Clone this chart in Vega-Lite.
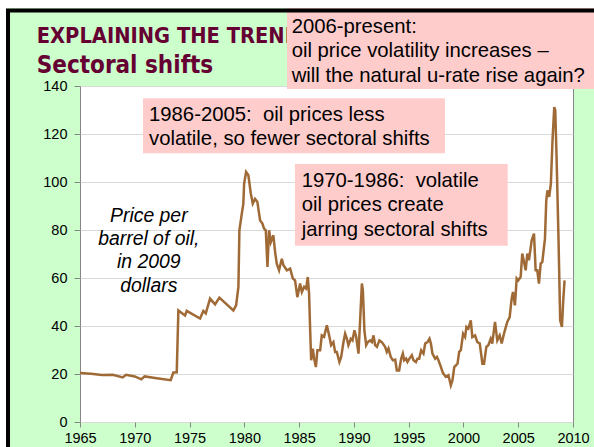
{
  "$schema": "https://vega.github.io/schema/vega-lite/v6.json",
  "width": 493,
  "height": 336,
  "autosize": {"type": "none"},
  "padding": {"left": 80, "top": 86, "right": 21, "bottom": 25},
  "background": "#ccffcc",
  "config": {
    "view": {"fill": "white", "stroke": "#868686", "strokeWidth": 1},
    "axis": {"labelFont": "Liberation Sans", "labelFontSize": 14.5, "labelColor": "black", "tickColor": "#868686", "domain": false, "gridColor": "#d9d9d9", "title": null}
  },
  "layer": [
    {
      "data": {"values": [
        {"t": 1965.00, "p": 20.4}, {"t": 1966.00, "p": 20.1}, {"t": 1967.00, "p": 19.6}, {"t": 1968.00, "p": 19.7},
        {"t": 1968.90, "p": 18.6}, {"t": 1969.20, "p": 19.7}, {"t": 1970.00, "p": 19.0}, {"t": 1970.60, "p": 17.8},
        {"t": 1970.90, "p": 19.0}, {"t": 1972.00, "p": 18.2}, {"t": 1973.28, "p": 17.4}, {"t": 1973.52, "p": 20.6},
        {"t": 1973.83, "p": 20.7}, {"t": 1973.98, "p": 46.5}, {"t": 1974.59, "p": 44.4}, {"t": 1974.74, "p": 46.3},
        {"t": 1975.96, "p": 43.1}, {"t": 1976.26, "p": 46.3}, {"t": 1976.48, "p": 45.3}, {"t": 1976.87, "p": 51.4},
        {"t": 1977.33, "p": 49.0}, {"t": 1977.72, "p": 51.8}, {"t": 1979.00, "p": 46.5}, {"t": 1979.25, "p": 48.6},
        {"t": 1979.46, "p": 56.3}, {"t": 1979.55, "p": 79.9}, {"t": 1979.77, "p": 86.8}, {"t": 1979.91, "p": 91.0},
        {"t": 1979.98, "p": 99.3}, {"t": 1980.16, "p": 104.2}, {"t": 1980.37, "p": 102.8}, {"t": 1980.59, "p": 95.2},
        {"t": 1980.77, "p": 91.0}, {"t": 1980.98, "p": 93.0}, {"t": 1981.19, "p": 91.7}, {"t": 1981.44, "p": 84.0},
        {"t": 1981.65, "p": 82.7}, {"t": 1981.80, "p": 80.6}, {"t": 1981.96, "p": 79.9}, {"t": 1982.11, "p": 64.6},
        {"t": 1982.26, "p": 79.9}, {"t": 1982.42, "p": 75.0}, {"t": 1982.65, "p": 77.8}, {"t": 1982.81, "p": 70.8},
        {"t": 1982.96, "p": 66.0}, {"t": 1983.17, "p": 63.2}, {"t": 1983.42, "p": 68.0}, {"t": 1983.57, "p": 65.3},
        {"t": 1983.88, "p": 63.2}, {"t": 1984.18, "p": 63.9}, {"t": 1984.43, "p": 59.8}, {"t": 1984.63, "p": 59.0},
        {"t": 1984.84, "p": 52.0}, {"t": 1985.09, "p": 57.7}, {"t": 1985.25, "p": 54.2}, {"t": 1985.46, "p": 56.3},
        {"t": 1985.64, "p": 55.6}, {"t": 1985.79, "p": 60.4}, {"t": 1985.91, "p": 53.5}, {"t": 1986.00, "p": 39.6},
        {"t": 1986.10, "p": 25.7}, {"t": 1986.25, "p": 30.6}, {"t": 1986.37, "p": 26.4}, {"t": 1986.53, "p": 22.9},
        {"t": 1986.67, "p": 29.9}, {"t": 1986.92, "p": 29.9}, {"t": 1987.07, "p": 36.1}, {"t": 1987.28, "p": 35.5},
        {"t": 1987.53, "p": 40.3}, {"t": 1987.74, "p": 36.1}, {"t": 1987.92, "p": 32.0}, {"t": 1988.13, "p": 33.3},
        {"t": 1988.29, "p": 29.2}, {"t": 1988.44, "p": 29.2}, {"t": 1988.68, "p": 25.0}, {"t": 1988.84, "p": 27.1},
        {"t": 1989.05, "p": 33.3}, {"t": 1989.20, "p": 36.8}, {"t": 1989.36, "p": 34.7}, {"t": 1989.50, "p": 32.0},
        {"t": 1989.72, "p": 34.7}, {"t": 1989.87, "p": 34.0}, {"t": 1990.05, "p": 38.2}, {"t": 1990.21, "p": 35.4},
        {"t": 1990.42, "p": 28.5}, {"t": 1990.57, "p": 42.4}, {"t": 1990.73, "p": 57.7}, {"t": 1990.82, "p": 54.9},
        {"t": 1990.96, "p": 38.2}, {"t": 1991.12, "p": 32.0}, {"t": 1991.27, "p": 33.3}, {"t": 1991.48, "p": 34.0},
        {"t": 1991.64, "p": 33.3}, {"t": 1991.79, "p": 36.1}, {"t": 1991.94, "p": 32.0}, {"t": 1992.10, "p": 31.3},
        {"t": 1992.33, "p": 34.0}, {"t": 1992.55, "p": 33.3}, {"t": 1992.85, "p": 31.3}, {"t": 1993.01, "p": 29.2},
        {"t": 1993.16, "p": 30.6}, {"t": 1993.37, "p": 27.1}, {"t": 1993.56, "p": 25.7}, {"t": 1993.77, "p": 26.0},
        {"t": 1993.92, "p": 21.5}, {"t": 1994.13, "p": 21.5}, {"t": 1994.32, "p": 26.4}, {"t": 1994.47, "p": 28.5},
        {"t": 1994.59, "p": 25.7}, {"t": 1994.77, "p": 26.4}, {"t": 1994.89, "p": 25.0}, {"t": 1995.07, "p": 26.4},
        {"t": 1995.29, "p": 27.8}, {"t": 1995.44, "p": 25.7}, {"t": 1995.66, "p": 25.0}, {"t": 1995.80, "p": 26.4},
        {"t": 1995.96, "p": 26.4}, {"t": 1996.14, "p": 29.9}, {"t": 1996.35, "p": 28.5}, {"t": 1996.51, "p": 32.7},
        {"t": 1996.72, "p": 33.3}, {"t": 1996.90, "p": 34.7}, {"t": 1997.03, "p": 32.7}, {"t": 1997.17, "p": 28.5},
        {"t": 1997.42, "p": 26.4}, {"t": 1997.58, "p": 27.1}, {"t": 1997.72, "p": 25.7}, {"t": 1997.94, "p": 23.0},
        {"t": 1998.12, "p": 20.5}, {"t": 1998.39, "p": 18.8}, {"t": 1998.63, "p": 19.5}, {"t": 1998.85, "p": 15.3},
        {"t": 1999.00, "p": 17.4}, {"t": 1999.16, "p": 22.9}, {"t": 1999.46, "p": 24.3}, {"t": 1999.61, "p": 29.2},
        {"t": 1999.76, "p": 29.9}, {"t": 1999.97, "p": 36.8}, {"t": 2000.15, "p": 35.4}, {"t": 2000.27, "p": 39.6},
        {"t": 2000.45, "p": 38.9}, {"t": 2000.67, "p": 42.4}, {"t": 2000.81, "p": 35.4}, {"t": 2001.06, "p": 36.1},
        {"t": 2001.27, "p": 33.3}, {"t": 2001.49, "p": 32.7}, {"t": 2001.73, "p": 24.3}, {"t": 2001.88, "p": 24.3},
        {"t": 2002.09, "p": 31.3}, {"t": 2002.27, "p": 32.0}, {"t": 2002.49, "p": 34.7}, {"t": 2002.63, "p": 32.7},
        {"t": 2002.88, "p": 41.7}, {"t": 2003.09, "p": 34.0}, {"t": 2003.31, "p": 36.1}, {"t": 2003.49, "p": 32.7},
        {"t": 2003.70, "p": 36.8}, {"t": 2004.00, "p": 41.7}, {"t": 2004.22, "p": 43.7}, {"t": 2004.40, "p": 51.4},
        {"t": 2004.52, "p": 54.2}, {"t": 2004.70, "p": 48.6}, {"t": 2004.86, "p": 59.8}, {"t": 2005.00, "p": 59.0},
        {"t": 2005.22, "p": 60.4}, {"t": 2005.37, "p": 70.2}, {"t": 2005.53, "p": 66.7}, {"t": 2005.68, "p": 63.2},
        {"t": 2005.83, "p": 70.2}, {"t": 2005.98, "p": 67.4}, {"t": 2006.23, "p": 75.7}, {"t": 2006.44, "p": 78.5},
        {"t": 2006.59, "p": 63.2}, {"t": 2006.74, "p": 63.2}, {"t": 2006.89, "p": 57.7}, {"t": 2007.05, "p": 66.0},
        {"t": 2007.20, "p": 66.7}, {"t": 2007.44, "p": 76.4}, {"t": 2007.56, "p": 92.4}, {"t": 2007.67, "p": 96.5},
        {"t": 2007.83, "p": 93.8}, {"t": 2007.98, "p": 99.3}, {"t": 2008.13, "p": 117.4}, {"t": 2008.29, "p": 131.2},
        {"t": 2008.38, "p": 129.9}, {"t": 2008.50, "p": 110.4}, {"t": 2008.68, "p": 75.7}, {"t": 2008.83, "p": 42.4},
        {"t": 2008.99, "p": 39.6}, {"t": 2009.11, "p": 50.7}, {"t": 2009.23, "p": 59.0}
      ]},
      "mark": {"type": "line", "color": "#9f6a36", "strokeWidth": 2.5},
      "encoding": {
        "x": {"field": "t", "type": "quantitative",
          "scale": {"domain": [1965, 2010], "nice": false, "zero": false},
          "axis": {"values": [1965, 1970, 1975, 1980, 1985, 1990, 1995, 2000, 2005, 2010], "format": "d", "grid": false, "tickSize": 5, "labelPadding": 4, "labelFlush": false, "title": null}},
        "y": {"field": "p", "type": "quantitative",
          "scale": {"domain": [0, 140], "nice": false},
          "axis": {"values": [0, 20, 40, 60, 80, 100, 120, 140], "grid": true, "tickSize": 6, "labelPadding": 7, "title": null}}
      }
    },
    {
      "data": {"values": [{}]},
      "mark": {"type": "text", "text": "EXPLAINING THE TREND", "font": "DejaVu Sans Condensed", "fontWeight": "bold", "fontSize": 21.7, "color": "#660033", "align": "left", "baseline": "alphabetic"},
      "encoding": {"x": {"datum": 1961.05, "type": "quantitative"}, "y": {"datum": 157.79, "type": "quantitative"}}
    },
    {
      "data": {"values": [{}]},
      "mark": {"type": "text", "text": "Sectoral shifts", "font": "DejaVu Sans Condensed", "fontWeight": "bold", "fontSize": 24, "color": "#660033", "align": "left", "baseline": "alphabetic"},
      "encoding": {"x": {"datum": 1961.05, "type": "quantitative"}, "y": {"datum": 145.54, "type": "quantitative"}}
    },
    {
      "data": {"values": [{}]},
      "mark": {"type": "rect", "color": "#ffcccc"},
      "encoding": {"x": {"datum": 1983.89, "type": "quantitative"}, "x2": {"datum": 2013}, "y": {"datum": 172.5, "type": "quantitative"}, "y2": {"datum": 138.75}}
    },
    {
      "data": {"values": [{}]},
      "mark": {"type": "rect", "color": "#ffcccc"},
      "encoding": {"x": {"datum": 1970.75, "type": "quantitative"}, "x2": {"datum": 1998.31}, "y": {"datum": 134.875, "type": "quantitative"}, "y2": {"datum": 111.96}}
    },
    {
      "data": {"values": [{}]},
      "mark": {"type": "rect", "color": "#ffcccc"},
      "encoding": {"x": {"datum": 1984.62, "type": "quantitative"}, "x2": {"datum": 2004.04}, "y": {"datum": 107.5, "type": "quantitative"}, "y2": {"datum": 73.46}}
    },
    {
      "data": {"values": [{}]},
      "mark": {"type": "text", "text": ["2006-present:", "oil price volatility increases \u2013", "will the natural u-rate rise again?"], "font": "Liberation Sans", "fontSize": 20.3, "lineHeight": 24.5, "color": "black", "align": "left", "baseline": "alphabetic"},
      "encoding": {"x": {"datum": 1984.32, "type": "quantitative"}, "y": {"datum": 162.21, "type": "quantitative"}}
    },
    {
      "data": {"values": [{}]},
      "mark": {"type": "text", "text": ["1986-2005:\u00a0 oil prices less", "volatile, so fewer sectoral shifts"], "font": "Liberation Sans", "fontSize": 20.3, "lineHeight": 24.5, "color": "black", "align": "left", "baseline": "alphabetic"},
      "encoding": {"x": {"datum": 1971.30, "type": "quantitative"}, "y": {"datum": 125.54, "type": "quantitative"}}
    },
    {
      "data": {"values": [{}]},
      "mark": {"type": "text", "text": ["1970-1986:\u00a0 volatile", "oil prices create", "jarring sectoral shifts"], "font": "Liberation Sans", "fontSize": 20.3, "lineHeight": 24.5, "color": "black", "align": "left", "baseline": "alphabetic"},
      "encoding": {"x": {"datum": 1985.24, "type": "quantitative"}, "y": {"datum": 98.04, "type": "quantitative"}}
    },
    {
      "data": {"values": [{}]},
      "mark": {"type": "text", "text": ["Price per", "barrel of oil,", "in 2009", "dollars"], "font": "Liberation Sans", "fontStyle": "italic", "fontSize": 19.4, "lineHeight": 23.3, "color": "black", "align": "center", "baseline": "alphabetic"},
      "encoding": {"x": {"datum": 1971.28, "type": "quantitative"}, "y": {"datum": 83.46, "type": "quantitative"}}
    },
    {
      "data": {"values": [{}]},
      "mark": {"type": "rect", "fill": "transparent", "stroke": "white", "strokeWidth": 16},
      "encoding": {"x": {"datum": 1957.52, "type": "quantitative"}, "x2": {"datum": 2020}, "y": {"datum": 175.83, "type": "quantitative"}, "y2": {"datum": -30}}
    },
    {
      "data": {"values": [{}]},
      "mark": {"type": "rect", "fill": "transparent", "stroke": "black", "strokeWidth": 4},
      "encoding": {"x": {"datum": 1958.43, "type": "quantitative"}, "x2": {"datum": 2020}, "y": {"datum": 171.46, "type": "quantitative"}, "y2": {"datum": -30}}
    }
  ]
}
